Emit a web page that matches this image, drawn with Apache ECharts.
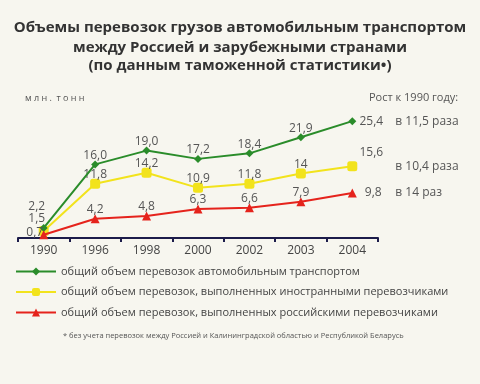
<!DOCTYPE html>
<html><head><meta charset="utf-8">
<style>html,body{margin:0;padding:0;background:#f7f6ef;}#c{width:480px;height:384px;}</style>
<script src="https://cdn.jsdelivr.net/npm/echarts@6/dist/echarts.min.js"></script>
</head><body><div id="c"></div>
<script>
const years = ['1990','1996','1998','2000','2002','2003','2004'];
const totalVals = [2.2, 16.0, 19.0, 17.2, 18.4, 21.9, 25.4];
const foreignVals = [1.5, 11.8, 14.2, 10.9, 11.8, 14, 15.6];
const russianVals = [0.7, 4.2, 4.8, 6.3, 6.6, 7.9, 9.8];
const seriesNames = [
  'общий объем перевозок автомобильным транспортом',
  'общий объем перевозок, выполненных иностранными перевозчиками',
  'общий объем перевозок, выполненных российскими перевозчиками'
];
const growth = ['в 11,5 раза', 'в 10,4 раза', 'в 14 раз'];
const titleLines = [
  'Объемы перевозок грузов автомобильным транспортом',
  'между Россией и зарубежными странами',
  '(по данным таможенной статистики•)'
];

const FONT = 'Open Sans';
const fmt = v => (v === 14 ? '14' : v.toFixed(1)).replace('.', ',');

function items(vals, firstOff, lastOff) {
  return vals.map((v, i) => {
    const o = { value: v };
    if (i === 0) o.label = { offset: firstOff };
    if (i === vals.length - 1) o.label = { offset: lastOff };
    return o;
  });
}

function mkSeries(name, vals, color, symbol, size, firstOff, lastOff, gText, z) {
  return {
    name, type: 'line', data: items(vals, firstOff, lastOff), z,
    symbol, symbolSize: size,
    lineStyle: { color, width: 2 },
    itemStyle: { color },
    label: { show: true, position: 'inside', offset: [0, -9], formatter: p => fmt(p.value),
             color: '#555', fontFamily: FONT, fontSize: 12 },
    endLabel: { show: true, formatter: gText, offset: [35, 0], color: '#555', fontFamily: FONT, fontSize: 12 }
  };
}

const titleStyle = { fontFamily: FONT, fontWeight: 'bold', fontSize: 15, color: '#333' };
const chart = echarts.init(document.getElementById('c'));
chart.setOption({
  backgroundColor: '#f7f6ef',
  animation: false,
  title: [
    { text: titleLines[0], left: 'center', top: 15, textStyle: titleStyle },
    { text: titleLines[1], left: 'center', top: 35, textStyle: titleStyle },
    { text: titleLines[2], left: 'center', top: 53, textStyle: titleStyle },
    { text: 'м л н .  т о н н', left: 20, top: 89, textStyle: { fontFamily: FONT, fontSize: 9, fontWeight: 'normal', color: '#555' } },
    { text: 'Рост к 1990 году:', left: 364, top: 87, textStyle: { fontFamily: FONT, fontSize: 11, fontWeight: 'normal', color: '#555' } },
    { text: '* без учета перевозок между Россией и Калининградской областью и Республикой Беларусь',
      left: 58, top: 327, textStyle: { fontFamily: FONT, fontSize: 7.5, fontWeight: 'normal', color: '#555' } }
  ],
  legend: {
    orient: 'vertical', left: 10, top: 261, itemWidth: 40, itemHeight: 10, itemGap: 9.5,
    textStyle: { fontFamily: FONT, fontSize: 11, color: '#444' },
    data: seriesNames
  },
  grid: { left: 18, right: 102, top: 100, bottom: 146 },
  xAxis: {
    type: 'category', data: years, boundaryGap: true,
    axisLine: { lineStyle: { color: '#1c1c4a', width: 2 } },
    axisTick: { show: true, length: 4, lineStyle: { color: '#1c1c4a', width: 2 } },
    axisLabel: { color: '#444', fontFamily: FONT, fontSize: 12, margin: 7 }
  },
  yAxis: { type: 'value', min: 0, max: 30, show: false },
  series: [
    mkSeries(seriesNames[0], totalVals, '#2a8c2a', 'diamond', 8, [-7, -21], [19, 0], growth[0], 3),
    mkSeries(seriesNames[1], foreignVals, '#f2e31c', 'roundRect', 10, [-7, -13], [19, -14], growth[1], 2),
    mkSeries(seriesNames[2], russianVals, '#e5231c', 'triangle', 9, [-9, -2], [21, 0], growth[2], 4)
  ]
});
</script></body></html>
